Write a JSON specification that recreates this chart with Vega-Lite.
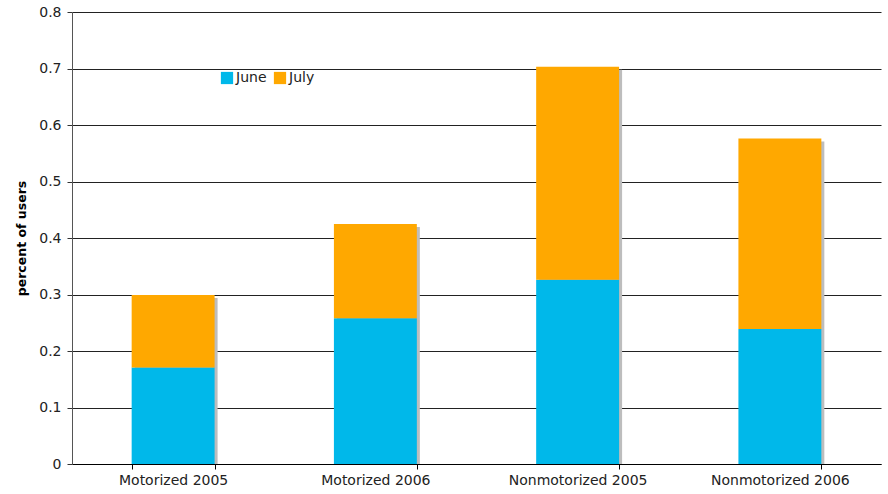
{
  "$schema": "https://vega.github.io/schema/vega-lite/v6.json",
  "width": 809,
  "height": 452,
  "autosize": {"type": "none"},
  "padding": {"left": 72, "top": 12, "right": 7, "bottom": 30},
  "background": "white",
  "config": {
    "font": "DejaVu Sans",
    "view": {"stroke": null}
  },
  "data": {
    "values": [
      {"group": "Motorized 2005", "month": "June", "value": 0.171},
      {"group": "Motorized 2005", "month": "July", "value": 0.128},
      {"group": "Motorized 2006", "month": "June", "value": 0.258},
      {"group": "Motorized 2006", "month": "July", "value": 0.167},
      {"group": "Nonmotorized 2005", "month": "June", "value": 0.326},
      {"group": "Nonmotorized 2005", "month": "July", "value": 0.377},
      {"group": "Nonmotorized 2006", "month": "June", "value": 0.239},
      {"group": "Nonmotorized 2006", "month": "July", "value": 0.337}
    ]
  },
  "encoding": {
    "x": {
      "field": "group",
      "type": "nominal",
      "sort": null,
      "scale": {"paddingInner": 0.59, "paddingOuter": 0.295},
      "axis": {
        "title": null,
        "labelAngle": 0,
        "labelFontSize": 14,
        "labelColor": "#222",
        "labelPadding": 4,
        "domainColor": "#000",
        "tickColor": "#000",
        "tickBand": "extent",
        "tickSize": 5,
        "grid": false
      }
    },
    "y": {
      "field": "value",
      "type": "quantitative",
      "scale": {"domain": [0, 0.8]},
      "axis": {
        "title": "percent of users",
        "titleFontSize": 12.5,
        "titleFontWeight": "bold",
        "titleColor": "#000",
        "titlePadding": 10,
        "values": [0, 0.1, 0.2, 0.3, 0.4, 0.5, 0.6, 0.7, 0.8],
        "format": "~g",
        "labelFontSize": 14,
        "labelColor": "#222",
        "labelPadding": 6,
        "domainColor": "#555",
        "tickColor": "#333",
        "tickSize": 5,
        "grid": true,
        "gridColor": "#222",
        "gridOpacity": 1
      }
    }
  },
  "layer": [
    {
      "mark": {"type": "bar", "color": "#bdbdbd", "xOffset": 3, "yOffset": 3, "clip": true},
      "encoding": {
        "y": {"aggregate": "sum", "field": "value", "type": "quantitative"}
      }
    },
    {
      "mark": {"type": "bar"},
      "encoding": {
        "y": {"field": "value", "type": "quantitative", "stack": "zero"},
        "color": {
          "field": "month",
          "type": "nominal",
          "sort": ["June", "July"],
          "scale": {"domain": ["June", "July"], "range": ["#00B8EA", "#FFA800"]},
          "legend": {
            "title": null,
            "orient": "none",
            "direction": "horizontal",
            "legendX": 148,
            "legendY": 59,
            "symbolType": "square",
            "symbolSize": 150,
            "symbolStrokeWidth": 0,
            "symbolOpacity": 1,
            "labelFontSize": 14,
            "labelColor": "#222",
            "labelOffset": 2,
            "columnPadding": 6,
            "fillColor": "white"
          }
        },
        "order": {"field": "month", "sort": "descending"}
      }
    }
  ]
}
